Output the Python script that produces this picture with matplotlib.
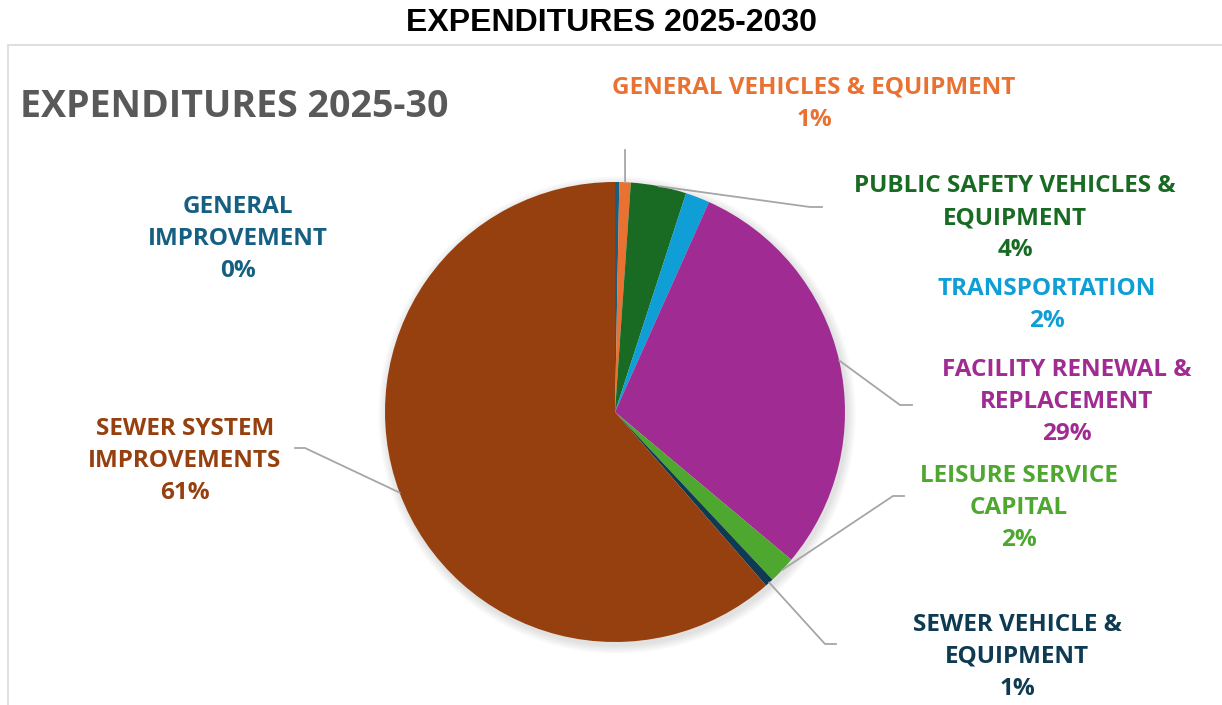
import numpy as np
import matplotlib.pyplot as plt
from matplotlib.patches import Rectangle, Circle

# capital plan expenditure shares, clockwise from 12 o'clock (percent)
categories = ["GENERAL\nIMPROVEMENT",
              "GENERAL VEHICLES & EQUIPMENT",
              "PUBLIC SAFETY VEHICLES &\nEQUIPMENT",
              "TRANSPORTATION",
              "FACILITY RENEWAL &\nREPLACEMENT",
              "LEISURE SERVICE\nCAPITAL",
              "SEWER VEHICLE &\nEQUIPMENT",
              "SEWER SYSTEM\nIMPROVEMENTS"]
shares = [0.3, 0.8, 3.9, 1.7, 29.4, 1.9, 0.6, 61.4]
colors = ["#156082", "#E97132", "#196B24", "#0F9ED5",
          "#A02B93", "#4EA72E", "#0E3A52", "#96400F"]

W, H = 1222, 705
fig = plt.figure(figsize=(W / 100, H / 100), dpi=100)
ax = fig.add_axes([0, 0, 1, 1])

def py(y):  # pixel row -> data y
    return H - y

FONT = "Open Sans"

# outer title + chart area frame
fig.text(0.5, 1 - 23 / H, "EXPENDITURES 2025-2030", ha="center", va="center",
         fontsize=23, fontweight="bold", family="Liberation Sans",
         color="black")
ax.add_patch(Rectangle((8, -10), W + 20, py(45) + 10, fill=False,
                       edgecolor="#D9D9D9", lw=1.2))
ax.text(20, py(107), "EXPENDITURES 2025-30", ha="left", va="center",
        fontsize=27, fontweight="bold", family=FONT, color="#595959")

cx, cy, R = 615, py(412), 230

# soft drop shadow under the pie
for k in range(10, 0, -1):
    ax.add_patch(Circle((cx + 2, cy - 3), R + k * 0.9, color="black",
                        alpha=0.012, lw=0, zorder=1))

wedges, _ = ax.pie(shares, colors=colors, startangle=90, counterclock=False,
                   radius=R, center=(cx, cy), frame=True,
                   wedgeprops=dict(linewidth=0, zorder=2))
ax.set_xlim(0, W)
ax.set_ylim(0, H)
ax.set_aspect("equal")
ax.axis("off")

# label block centres (px) and leader elbows (px) per slice
label_xy = [(238, 239), (814, 104), (1015, 218), (1047, 305),
            (1067, 402), (1019, 508), (1017, 657), (185, 461)]
elbows = [None, [(625, 150)], [(810, 207), (822, 207)], None,
          [(900, 405), (912, 405)], [(893, 496), (904, 496)],
          [(825, 644), (836, 644)], [(305, 448), (295, 448)]]

start = 90.0
for i, (w, lab, val) in enumerate(zip(wedges, categories, shares)):
    span = val / 100 * 360
    if elbows[i] is not None:
        # leader starts on the rim at the wedge's mid angle
        a = np.deg2rad(start - span / 2)
        pts = [(cx + R * np.cos(a), cy + R * np.sin(a))]
        pts += [(x, py(y)) for x, y in elbows[i]]
        xs, ys = zip(*pts)
        ax.plot(xs, ys, color="#A6A6A6", lw=1.3, zorder=3)
    start -= span
    txt = f"{lab}\n{val:.0f}%"
    lx, ly = label_xy[i]
    ax.text(lx, py(ly), txt, ha="center", va="center", fontsize=17.5,
            fontweight="bold", family=FONT, color=colors[i], linespacing=1.46)

fig.savefig("out.png", dpi=100)
